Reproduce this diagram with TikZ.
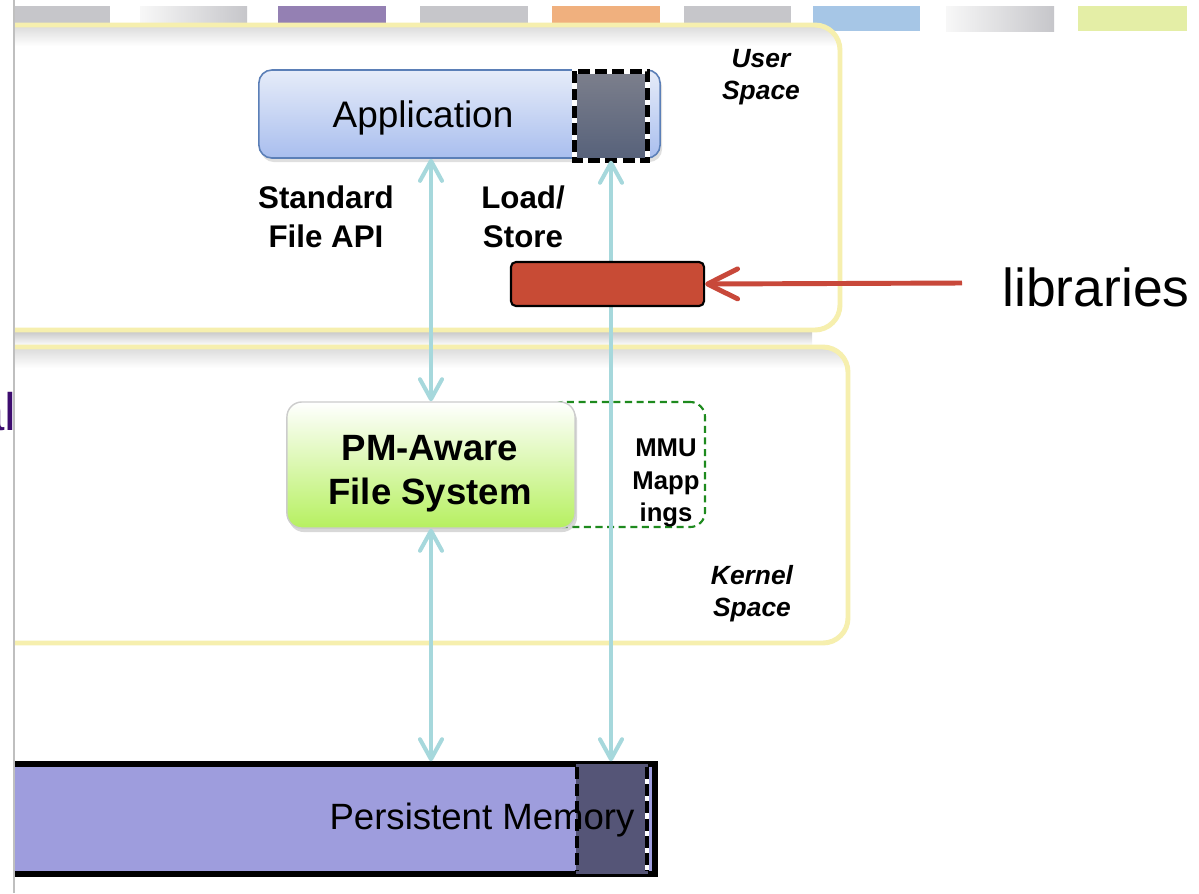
\documentclass[tikz,border=0pt]{standalone}
\usepackage{fontspec}
\setmainfont{Liberation Sans}
\usetikzlibrary{arrows.meta,shadows,calc}
\definecolor{bargray}{HTML}{C6C6CA}
\definecolor{barpurple}{HTML}{9480B3}
\definecolor{barorange}{HTML}{F0B07E}
\definecolor{barblue}{HTML}{A6C6E6}
\definecolor{baryellow}{HTML}{E4EEA6}
\definecolor{spaceyellow}{HTML}{F6EFAE}
\definecolor{apptop}{HTML}{E6ECF9}
\definecolor{appbot}{HTML}{A9BEEE}
\definecolor{appborder}{HTML}{5B7FB7}
\definecolor{sqtop}{HTML}{7C7F8C}
\definecolor{sqbot}{HTML}{56617A}
\definecolor{arrowcyan}{HTML}{A6D8DC}
\definecolor{libred}{HTML}{C84B35}
\definecolor{arrred}{HTML}{C8483A}
\definecolor{fsgreen}{HTML}{B6F060}
\definecolor{mmugreen}{HTML}{1E8A1E}
\definecolor{pmfill}{HTML}{9E9DDD}
\definecolor{pmdarkfill}{HTML}{555577}
\definecolor{alpurple}{HTML}{3D0C6F}
\tikzset{
  spacefill/.style={fill=white, rounded corners=0.25cm},
  spaceline/.style={draw=spaceyellow, line width=1.4pt, rounded corners=0.25cm},
  appbox/.style={draw=appborder, line width=0.45pt, rounded corners=0.13cm, top color=apptop, bottom color=appbot, minimum width=4.01cm, minimum height=0.88cm, inner sep=0pt, drop shadow={opacity=0.25, shadow xshift=0.02cm, shadow yshift=-0.04cm}},
  dsquare/.style={top color=sqtop, bottom color=sqbot, minimum width=0.72cm, minimum height=0.88cm, inner sep=0pt},
  dashborder/.style={draw=black, line width=1.4pt, dash pattern=on 3.4pt off 1.5pt},
  whiteborder/.style={draw=white, line width=1.4pt},
  pmarrow/.style={draw=arrowcyan, line width=1.15pt, {Straight Barb[length=0.2cm,width=0.22cm,round]}-{Straight Barb[length=0.2cm,width=0.22cm,round]}},
  libbox/.style={draw=black, line width=0.6pt, fill=libred, rounded corners=0.05cm, minimum width=1.93cm, minimum height=0.44cm, inner sep=0pt},
  libarrow/.style={draw=arrred, line width=1.4pt, -{Straight Barb[length=0.3cm,width=0.3cm,round]}},
  fsbox/.style={draw=black!20, line width=0.4pt, rounded corners=0.15cm, top color=white, bottom color=fsgreen, minimum width=2.88cm, minimum height=1.26cm, inner sep=0pt, drop shadow={opacity=0.3, shadow xshift=0.02cm, shadow yshift=-0.04cm}},
  fslbl/.style={align=center, font=\bfseries\fontsize{10.4}{12.5}\selectfont},
  mmubox/.style={draw=mmugreen, line width=0.6pt, dash pattern=on 2pt off 1.3pt, rounded corners=0.15cm, minimum width=1.57cm, minimum height=1.25cm, inner sep=0pt},
  lbl/.style={font=\bfseries\fontsize{8.9}{11}\selectfont, align=center},
  spacelbl/.style={font=\bfseries\itshape\fontsize{7.5}{9.1}\selectfont, align=center},
  mmulbl/.style={font=\bfseries\fontsize{7.3}{9.2}\selectfont, align=center},
  pmbar/.style={fill=pmfill, minimum width=6.75cm, minimum height=1.14cm, inner sep=0pt},
  pmdark/.style={fill=pmdarkfill, minimum width=0.72cm, minimum height=1.1cm, inner sep=0pt},
}
\begin{document}
\begin{tikzpicture}[x=0.01cm, y=-0.01cm]
\useasboundingbox (0,0) rectangle (1199,893);
\fill[white] (0,0) rectangle (1199,893);
% top colour bar
\fill[bargray] (14,6) rectangle (110,31);
\shade[left color=black!3, right color=bargray] (140,6) rectangle (247,31);
\fill[barpurple] (278,6) rectangle (386,31);
\fill[bargray] (420,6) rectangle (528,31);
\fill[barorange] (552,6) rectangle (660,31);
\fill[bargray] (684,6) rectangle (791,31);
\fill[barblue] (813,6) rectangle (920,31);
\shade[left color=black!3, right color=bargray] (946,6) rectangle (1054,31);
\fill[baryellow] (1078,6) rectangle (1187,31);

\begin{scope}
\clip (14,0) rectangle (1199,893);
% shadow between the two spaces
\shade[top color=black!22, bottom color=white] (-40,331) rectangle (812,346);
% user space
\fill[spacefill] (-40,25) rectangle (840,330);
\begin{scope}
\clip[rounded corners=0.25cm] (-40,25) rectangle (840,330);
\shade[top color=black!14, bottom color=white] (-40,26) rectangle (840,46);
\end{scope}
\draw[spaceline] (-40,25) rectangle (840,330);
% kernel space
\fill[spacefill] (-40,347) rectangle (848,643);
\begin{scope}
\clip[rounded corners=0.25cm] (-40,347) rectangle (848,643);
\shade[top color=black!14, bottom color=white] (-40,348) rectangle (848,368);
\end{scope}
\draw[spaceline] (-40,347) rectangle (848,643);
% persistent memory bar
\node[pmbar] (pm) at (317.5,819) {};
\end{scope}
\draw[line width=1.7pt] (14,764) -- (655,764) -- (655,874) -- (14,874);
\node[pmdark] (pmd) at (612,819) {};
\draw[dashborder] (577,767) -- (577,871);
\draw[whiteborder, line width=1.2pt] (647,767) -- (647,871);
\draw[dashborder, line width=1.2pt] (647,767) -- (647,871);
\node[font=\fontsize{10.4}{12}\selectfont] (pmtext) at (482,820) {Persistent Memory};

% left edge: text cut by the frame
\begin{scope}
\clip (0,0) rectangle (14,893);
\node[font=\fontsize{15}{18}\selectfont, text=alpurple, anchor=base east, inner sep=0pt] (al) at (17.3,430) {al};
\end{scope}
\draw[black!25, line width=0.35pt] (14,0) -- (14,893);

% application
\node[appbox] (app) at (459.5,114) {};
\node[font=\fontsize{10.5}{12}\selectfont] (apptext) at (423,118) {Application};
\node[dsquare] (dsq) at (611,116) {};
\draw[whiteborder] (dsq.north west) rectangle (dsq.south east);
\draw[dashborder] (dsq.north west) rectangle (dsq.south east);

% MMU mappings box
\node[mmubox] (mmu) at (626.5,464.5) {};
\node[mmulbl] (mmutext) at (666,483) {MMU\\Mapp\\ings};

% file system
\node[fsbox] (fs) at (431,465) {};
\node[fslbl] (fstext) at (430,474) {PM-Aware\\File System};

% arrows
\draw[pmarrow] (app.south -| fs.north) -- (fs.north);
\draw[pmarrow] (fs.south) -- (fs.south |- pm.north);
\draw[pmarrow] (dsq.south) -- (dsq.south |- pm.north);

% labels
\node[lbl] (std) at (326,217) {Standard\\File API};
\node[lbl] (ls) at (523,217) {Load/\\Store};
\node[spacelbl] (us) at (761,77) {User\\Space};
\node[spacelbl] (ks) at (752,594) {Kernel\\Space};

% libraries
\node[libbox] (lib) at (607.5,284) {};
\coordinate (libstart) at (962,283);
\draw[libarrow] (libstart) -- (lib.east);
\node[font=\fontsize{15.2}{18}\selectfont] (libtext) at (1096,287) {libraries};
\end{tikzpicture}
\end{document}
